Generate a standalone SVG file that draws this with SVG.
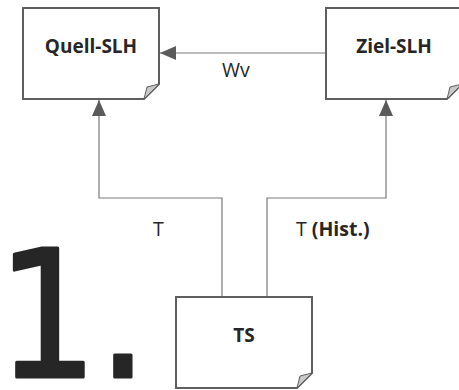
<svg xmlns="http://www.w3.org/2000/svg" width="459" height="390" viewBox="0 0 459 390">
<style>
.box{fill:#fff;stroke:#5f5f5f;stroke-width:2}
.fold{fill:#c8c8c8;stroke:#5f5f5f;stroke-width:1}
.lbl{font-family:"Open Sans",sans-serif;font-weight:bold;font-size:19px;fill:#262626;text-anchor:middle}
.el{font-family:"Open Sans",sans-serif;font-size:19.5px;fill:#262626}
.con{fill:none;stroke:#7a7a7a;stroke-width:1.2}
</style>
<defs>
<marker id="ah" markerWidth="16" markerHeight="14" refX="16" refY="7" orient="auto" markerUnits="userSpaceOnUse">
<path d="M0,0 L16,7 L0,14 Z" fill="#5a5a5a"/>
</marker>
</defs>
<rect width="459" height="390" fill="#fff"/>
<text x="-3" y="377" font-family="DejaVu Sans Condensed, DejaVu Sans, sans-serif" font-size="176" fill="#262626" stroke="#262626" stroke-width="3" stroke-linejoin="round">1.</text>
<g id="connectors">
<path class="con" d="M326,53 H160" marker-end="url(#ah)"/>
<path class="con" d="M222,297 V198 H99 V100" marker-end="url(#ah)"/>
<path class="con" d="M267,297 V198 H386 V100" marker-end="url(#ah)"/>
<text class="el" x="222" y="77">Wv</text>
<text class="el" x="153" y="236">T</text>
<text class="el" x="296" y="236">T <tspan font-weight="bold">(Hist.)</tspan></text>
</g>
<g id="quell">
<path class="box" d="M23,8 H159 V84 L144,99 H23 Z"/>
<path class="fold" d="M144,99 L159,84 L147,87 Z"/>
<text class="lbl" x="91" y="53">Quell-SLH</text>
</g>
<g id="ziel">
<path class="box" d="M326,8 H462 V84 L447,99 H326 Z"/>
<path class="fold" d="M447,99 L462,84 L450,87 Z"/>
<text class="lbl" x="394" y="53">Ziel-SLH</text>
</g>
<g id="ts">
<path class="box" d="M176,297 H312 V373 L297,388 H176 Z"/>
<path class="fold" d="M297,388 L312,373 L300,376 Z"/>
<text class="lbl" x="244" y="342">TS</text>
</g>
</svg>
